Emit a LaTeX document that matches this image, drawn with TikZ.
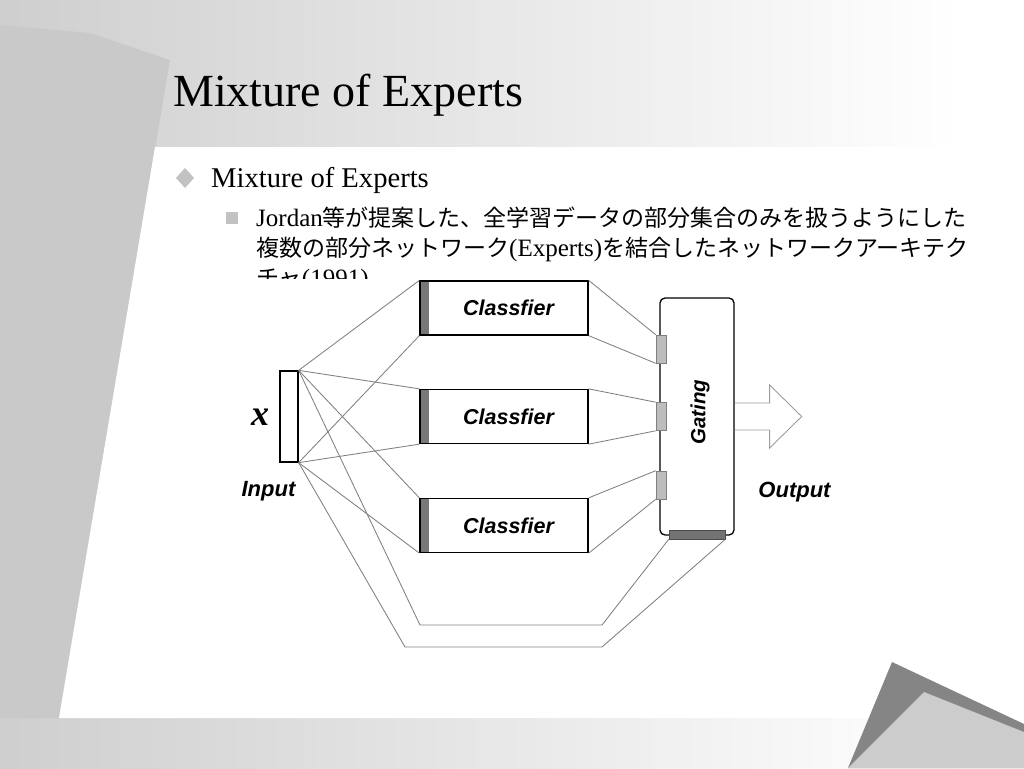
\documentclass[tikz,border=0pt]{standalone}
\usepackage{fontspec}
\setmainfont{Liberation Serif}
\newfontfamily\jpfont{Noto Sans CJK JP}
\newfontfamily\figfont{Liberation Sans}
\newcommand\latword[1]{{\rmfamily\fontsize{25}{30}\selectfont #1}}

\definecolor{bgleft}{gray}{0.81}
\definecolor{bgdark}{gray}{0.79}
\definecolor{cornerdark}{gray}{0.52}
\definecolor{cornerlight}{gray}{0.80}
\definecolor{bulletgray}{gray}{0.76}
\definecolor{wiregray}{gray}{0.50}
\definecolor{stripgray}{gray}{0.47}
\definecolor{portgray}{gray}{0.74}
\definecolor{portdark}{gray}{0.45}
\definecolor{arrowgray}{gray}{0.62}

\tikzset{
  wire/.style={draw=wiregray, line width=0.85pt},
  boxline/.style={draw, line width=1.3pt, fill=white, inner sep=0pt},
  clsbox/.style={boxline, minimum width=168pt, minimum height=54pt,
    font=\figfont\bfseries\itshape\fontsize{21.5}{24}\selectfont,
    path picture={\fill[stripgray] (path picture bounding box.south west) rectangle ([xshift=9pt]path picture bounding box.north west);}},
  port/.style={draw=gray, fill=portgray, line width=0.6pt, inner sep=0pt, minimum width=10pt, minimum height=28pt},
  figlabel/.style={font=\figfont\bfseries\itshape\fontsize{22}{24}\selectfont},
  slidetext/.style={anchor=base west, inner sep=0pt},
  jpline/.style={slidetext, font=\jpfont\fontsize{23}{30}\selectfont},
}

\begin{document}
\begin{tikzpicture}[x=1pt,y=-1pt]
  \useasboundingbox (0,0) rectangle (1024,768);
  %% background
  \fill[white] (0,0) rectangle (1024,768);
  \shade[left color=bgleft, right color=white] (0,0) rectangle (960,768);
  \fill[bgdark] (0,25) -- (90,33) -- (170,60) -- (59,718) -- (0,718) -- cycle;
  \fill[white] (155,147) -- (1024,147) -- (1024,718) -- (59,718) -- cycle;
  %% corner
  \fill[cornerdark] (892,662) -- (1024,724) -- (1024,768) -- (848,768) -- cycle;
  \fill[cornerlight] (924,692) -- (1024,732) -- (1024,768) -- (848,768) -- cycle;

  %% title
  \node[slidetext, font=\fontsize{46}{50}\selectfont] (title) at (173,106) {Mixture of Experts};
  %% bullets
  \fill[bulletgray] (176,178) -- (185,168) -- (194,178) -- (185,188) -- cycle;
  \node[slidetext, font=\fontsize{28.6}{32}\selectfont] (item) at (211,187) {Mixture of Experts};
  \fill[bulletgray] (226,212) rectangle (238,224);
  \node[jpline] (sub1) at (256,226) {\latword{Jordan}等が提案した、全学習データの部分集合のみを扱うようにした};
  \node[jpline] (sub2) at (256,256) {複数の部分ネットワーク\latword{(Experts)}を結合したネットワークアーキテク};
  \node[jpline] (sub3) at (256,286) {チャ\latword{(1991)}};
  %% picture area covers the last line
  \fill[white] (240,279) rectangle (845,665);

  %% input
  \node[boxline, minimum width=18pt, minimum height=91pt] (inp) at (289,416.5) {};
  \node[font=\bfseries\itshape\fontsize{36}{36}\selectfont] (xlab) at (260,417) {x};
  \node[figlabel] (inlab) at (268.5,491.5) {Input};
  %% experts
  \node[clsbox] (cls1) at (504,308) {\hspace*{9pt}Classfier};
  \node[clsbox] (cls2) at (504,416.5) {\hspace*{9pt}Classfier};
  \node[clsbox] (cls3) at (504,525.5) {\hspace*{9pt}Classfier};
  %% gating
  \node[boxline, rounded corners=5pt, minimum width=74pt, minimum height=237pt] (gate) at (697,416.5) {};
  \node[figlabel, font=\figfont\bfseries\itshape\fontsize{20.5}{22}\selectfont, rotate=90] (gatelab) at (700,412) {Gating};
  \node[port] (p1) at (661,349) {};
  \node[port] (p2) at (661,416.5) {};
  \node[port] (p3) at (661,485) {};
  \node[draw=black!70, fill=portdark, line width=0.6pt, inner sep=0pt, minimum width=56pt, minimum height=9pt] (pb) at (697,534.5) {};
  %% output
  \draw[arrowgray, line width=0.9pt] (gate.east) ++(0,-13.5) -- ++(35,0) -- ++(0,-18) -- ++(32,31.5)
    -- ++(-32,31.5) -- ++(0,-18) -- ++(-35,0);
  \node[figlabel] (outlab) at (794.5,492) {Output};

  %% wires
  \foreach \i in {1,2,3} {
    \draw[wire] (inp.north east) -- (cls\i.north west);
    \draw[wire] (inp.south east) -- (cls\i.south west);
    \draw[wire] (cls\i.north east) -- (p\i.north west);
    \draw[wire] (cls\i.south east) -- (p\i.south west);
  }
  \coordinate (loopa) at (420,625);
  \coordinate (loopb) at (602,625);
  \coordinate (loopc) at (405,647);
  \coordinate (loopd) at (602,647);
  \draw[wire] (inp.north east) -- (loopa) -- (loopb) -- (pb.south west);
  \draw[wire] (inp.south east) -- (loopc) -- (loopd) -- (pb.south east);
\end{tikzpicture}
\end{document}
